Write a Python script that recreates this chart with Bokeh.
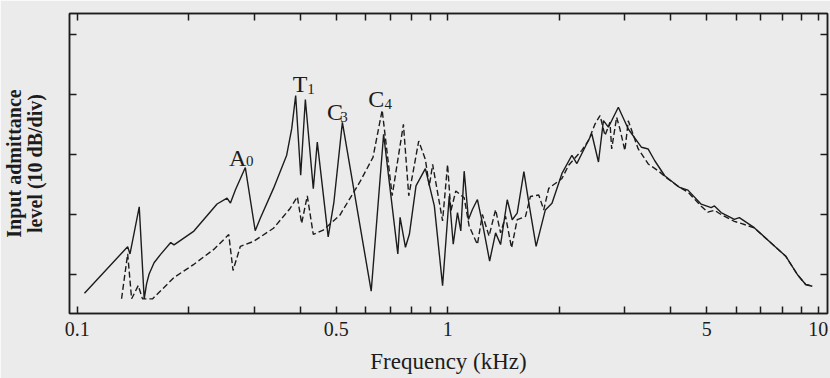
from bokeh.plotting import figure
from bokeh.models import LogAxis, LinearAxis, FixedTicker
from bokeh.core.properties import value
from bokeh.embed import file_html
from bokeh.resources import INLINE

# ---- data (frequency in kHz, admittance level in dB, relative) ----
solid_freq = [0.1046, 0.1368, 0.1388, 0.1470, 0.1516, 0.1539, 0.1563, 0.1612, 0.1681, 0.1788,
              0.1825, 0.2065, 0.2384, 0.2537, 0.2591, 0.2673, 0.2842, 0.3022, 0.3119, 0.3386,
              0.3675, 0.3792, 0.3886, 0.4009, 0.4127, 0.4336, 0.4445, 0.4756, 0.4929, 0.5195,
              0.6214, 0.6712, 0.7332, 0.7436, 0.7688, 0.7880, 0.8209, 0.8700, 0.9200, 0.9683,
              1.0093, 1.0346, 1.0624, 1.0844, 1.1074, 1.1372, 1.1657, 1.2023, 1.2400, 1.2972,
              1.3462, 1.3886, 1.4473, 1.4928, 1.5397, 1.6050, 1.6554, 1.7317, 1.8338, 1.9113,
              2.0335, 2.1630, 2.2309, 2.3482, 2.4475, 2.5511, 2.6311, 2.7139, 2.8864, 3.0706,
              3.3343, 3.4754, 3.6200, 3.8503, 4.2249, 4.4491, 4.8306, 5.1404, 5.2456, 5.4676,
              5.9348, 6.1210, 6.7173, 7.4456, 8.1696, 8.7801, 9.2476, 9.6360]
solid_level = [-3.12, 4.64, 3.43, 11.28, -4.06, -1.52, 0.09, 1.96, 3.40, 5.32,
               4.93, 7.24, 11.75, 12.74, 11.90, 14.12, 17.82, 7.29, 9.38, 14.35,
               19.89, 24.30, 29.84, 16.55, 29.17, 14.31, 22.06, 6.27, 12.08, 25.36,
               -2.79, 23.38, 3.43, 9.52, 4.53, 6.74, 14.78, 17.64, 11.44, -1.86,
               13.08, 5.04, 10.30, 7.26, 17.22, 9.18, 10.83, 12.49, 8.61, 2.24,
               6.94, 4.99, 12.46, 9.13, 10.24, 17.16, 11.89, 4.69, 10.76, 11.87,
               16.84, 19.87, 18.49, 21.25, 23.46, 18.75, 25.65, 24.55, 27.87, 24.25,
               21.20, 20.91, 18.96, 16.46, 14.51, 14.06, 11.72, 11.16, 11.42, 10.32,
               9.20, 9.47, 7.80, 5.29, 3.05, 0.0, -1.67, -1.96]

dash_freq = [0.1317, 0.1368, 0.1402, 0.1461, 0.1500, 0.1596, 0.1825, 0.2065, 0.2336, 0.2564,
             0.2633, 0.2756, 0.2992, 0.3386, 0.3754, 0.3927, 0.4033, 0.4177, 0.4336, 0.4612,
             0.5112, 0.5786, 0.6283, 0.6652, 0.7079, 0.7592, 0.7848, 0.8348, 0.8700, 0.8918,
             0.9103, 0.9683, 0.9988, 1.0193, 1.0513, 1.1074, 1.1420, 1.2023, 1.2400, 1.2924,
             1.3462, 1.3886, 1.4322, 1.4863, 1.5397, 1.6210, 1.6713, 1.7602, 1.8156, 1.8727,
             2.0335, 2.1192, 2.3010, 2.3984, 2.4987, 2.5763, 2.6571, 2.7404, 2.7694, 2.8560,
             2.9152, 3.0064, 3.0706, 3.2663, 3.4754, 3.6966, 3.9313, 4.2249, 4.4491, 4.8306,
             5.0350, 5.2456, 5.4676, 5.9348, 6.1888, 6.7173, 7.4456, 8.1696, 8.7801, 9.2476,
             9.6360]
dash_level = [-4.04, 3.43, -4.05, -1.84, -4.06, -4.07, -0.50, 1.70, 4.18, 6.65,
              0.67, 4.70, 5.52, 7.71, 11.01, 12.95, 8.51, 13.10, 6.67, 7.39,
              9.87, 15.38, 19.52, 27.40, 13.14, 25.02, 13.12, 22.25, 19.18, 14.76,
              18.35, 8.94, 18.33, 10.59, 13.91, 12.78, 8.08, 5.01, 9.99, 6.40,
              10.81, 6.93, 9.70, 4.43, 9.13, 9.68, 13.0, 13.26, 10.76, 14.36,
              16.01, 18.21, 20.69, 22.35, 25.11, 26.49, 23.16, 25.38, 20.94, 26.20,
              24.26, 20.65, 25.63, 20.92, 18.42, 17.29, 15.91, 14.51, 13.73, 11.39,
              10.39, 10.71, 9.99, 8.86, 8.52, 7.77, 5.29, 3.05, 0.0, -1.67,
              -1.96]

# peak labels
label_main = ["A", "T", "C", "C"]
label_sub = ["0", "1", "3", "4"]
label_freq = [0.2710, 0.3993, 0.4959, 0.6412]
label_level = [19.37, 31.77, 27.03, 29.2]

# axis ticks
x_major = [0.1, 0.5, 1.0, 5.0, 10.0]
x_major_labels = ["0.1", "0.5", "1", "5", "10"]
x_minor = [0.2, 0.3, 0.4, 0.6, 0.7, 0.8, 0.9, 2.0, 3.0, 4.0, 6.0, 7.0, 8.0, 9.0]
y_ticks = [0, 10, 20, 30, 40]

# ---- styles ----
BG = "#ebebeb"
INK = "#1c1c1c"
SERIF = "Liberation Serif"
sub_dx = [12, 11, 9, 12]
sub_dy = [3, 5, 5, 5]

p = figure(width=830, height=378, x_axis_type="log",
           x_range=(0.0953, 10.59), y_range=(-6.5, 43.5),
           output_backend="svg", toolbar_location=None,
           min_border_left=65, min_border_right=3, min_border_top=13, min_border_bottom=65,
           background_fill_color=BG, border_fill_color=BG,
           outline_line_color=INK, outline_line_width=1.5)
p.grid.visible = False


def style_ticks(ax):
    ax.major_tick_in = 7
    ax.major_tick_out = 0
    ax.minor_tick_in = 7
    ax.minor_tick_out = 0
    ax.axis_line_width = 1.5
    ax.axis_line_color = INK
    ax.major_tick_line_color = INK
    ax.major_tick_line_width = 1.5
    ax.minor_tick_line_color = INK
    ax.minor_tick_line_width = 1.5


xa = p.xaxis[0]
xa.ticker = FixedTicker(ticks=x_major, minor_ticks=x_minor)
xa.major_label_overrides = {t: s for t, s in zip(x_major, x_major_labels)}
style_ticks(xa)
xa.major_label_text_font = SERIF
xa.major_label_text_font_size = "20px"
xa.major_label_text_color = INK
xa.major_label_standoff = 8
xa.axis_label = "Frequency (kHz)"
xa.axis_label_text_font = SERIF
xa.axis_label_text_font_size = "23px"
xa.axis_label_text_font_style = "normal"
xa.axis_label_text_color = INK
xa.axis_label_standoff = 10

ya = p.yaxis[0]
ya.ticker = FixedTicker(ticks=y_ticks)
style_ticks(ya)
ya.minor_tick_line_color = None
ya.major_label_text_color = None
ya.major_label_standoff = 0
ya.axis_label = "Input admittance\nlevel (10 dB/div)"
ya.axis_label_text_font = SERIF
ya.axis_label_text_font_size = "20px"
ya.axis_label_text_font_style = "bold"
ya.axis_label_text_color = INK
ya.axis_label_text_line_height = 0.92
ya.axis_label_standoff = 24

top = LogAxis(ticker=FixedTicker(ticks=x_major, minor_ticks=x_minor),
              major_label_text_color=None, major_label_standoff=0)
style_ticks(top)
p.add_layout(top, "above")

right = LinearAxis(ticker=FixedTicker(ticks=y_ticks),
                   major_label_text_color=None, major_label_standoff=0)
style_ticks(right)
right.minor_tick_line_color = None
p.add_layout(right, "right")

p.line(dash_freq, dash_level, line_color=INK, line_width=1.4, line_dash="6 3")
p.line(solid_freq, solid_level, line_color=INK, line_width=1.4)

p.text(x=label_freq, y=label_level, text=label_main, text_font=value(SERIF),
       text_font_size="24px", text_align="center", text_baseline="alphabetic",
       text_color=INK)
p.text(x=label_freq, y=label_level, text=label_sub, x_offset=sub_dx, y_offset=sub_dy,
       text_font=value(SERIF), text_font_size="15px", text_align="center",
       text_baseline="alphabetic", text_color=INK)

open("out.html", "w").write(file_html(p, INLINE))
